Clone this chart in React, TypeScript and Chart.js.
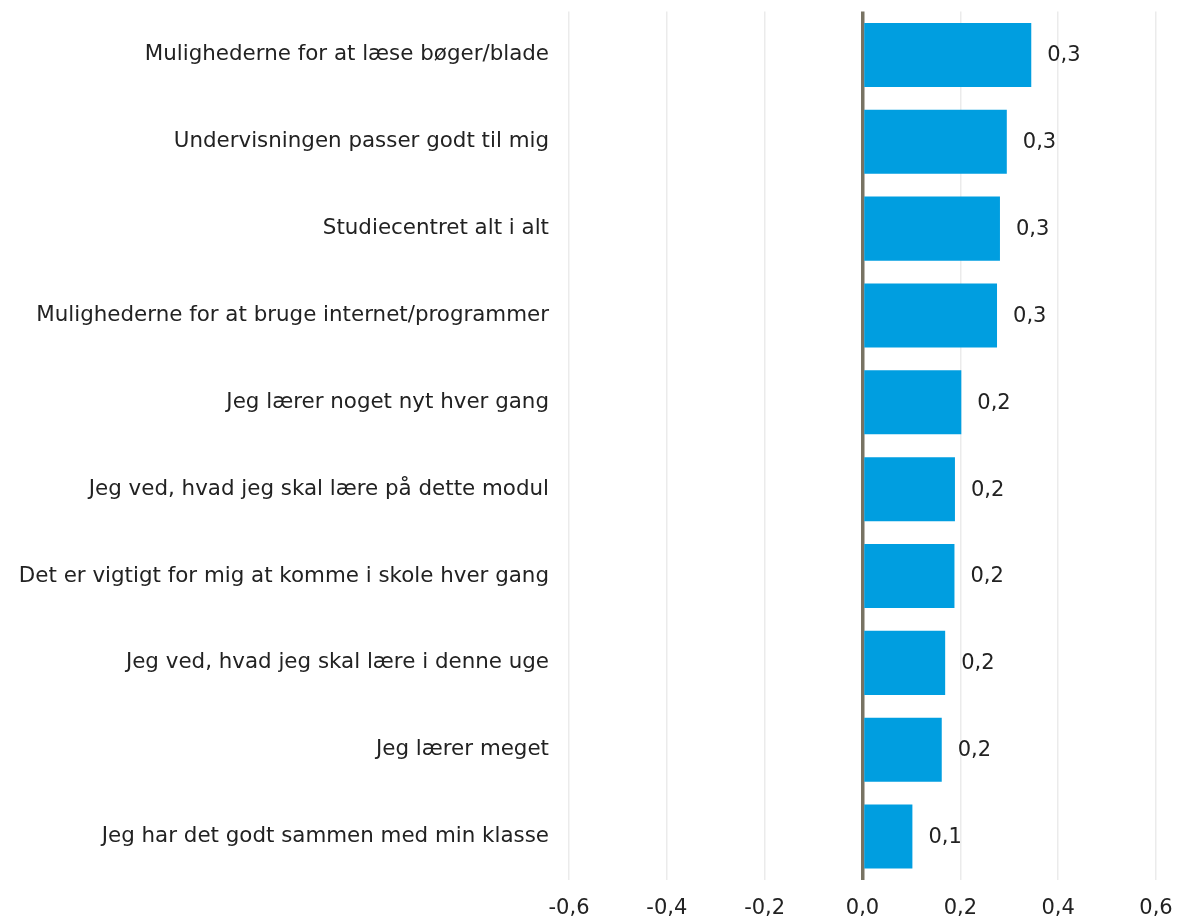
import React, { useEffect, useRef } from "react";
import { Chart, registerables } from "chart.js";

Chart.register(...registerables);

const categories: string[] = [
  "Mulighederne for at læse bøger/blade",
  "Undervisningen passer godt til mig",
  "Studiecentret alt i alt",
  "Mulighederne for at bruge internet/programmer",
  "Jeg lærer noget nyt hver gang",
  "Jeg ved, hvad jeg skal lære på dette modul",
  "Det er vigtigt for mig at komme i skole hver gang",
  "Jeg ved, hvad jeg skal lære i denne uge",
  "Jeg lærer meget",
  "Jeg har det godt sammen med min klasse",
];

const values: number[] = [0.345, 0.295, 0.281, 0.275, 0.202, 0.189, 0.188, 0.169, 0.162, 0.102];

const xMin = -0.6;
const xMax = 0.6;
const xStep = 0.2;

const FONT = "'DejaVu Sans', Verdana, sans-serif";

const fmt = (v: number): string => {
  if (Math.abs(v) < 1e-9) return "0,0";
  return v.toFixed(1).replace(".", ",");
};

const valueLabels = {
  id: "valueLabels",
  afterDatasetsDraw(chart: any) {
    const ctx = chart.ctx;
    const meta = chart.getDatasetMeta(0);
    ctx.save();
    ctx.font = `21px ${FONT}`;
    ctx.fillStyle = "#222222";
    ctx.textAlign = "left";
    ctx.textBaseline = "middle";
    meta.data.forEach((bar: any, i: number) => {
      const v = chart.data.datasets[0].data[i] as number;
      ctx.fillText(fmt(v), bar.x + 16, bar.y + 1);
    });
    ctx.restore();
  },
};

export default function App() {
  const ref = useRef<HTMLCanvasElement | null>(null);

  useEffect(() => {
    if (!ref.current) return;
    const chart = new Chart(ref.current, {
      type: "bar",
      data: {
        labels: categories,
        datasets: [
          {
            data: values,
            backgroundColor: "#009ee0",
            borderWidth: 0,
            barPercentage: 0.737,
            categoryPercentage: 1,
          },
        ],
      },
      options: {
        indexAxis: "y",
        animation: false,
        responsive: false,
        maintainAspectRatio: false,
        layout: { padding: { left: 0, right: 21, top: 11.5, bottom: 0 } },
        plugins: {
          legend: { display: false },
          tooltip: { enabled: false },
        },
        scales: {
          x: {
            min: xMin,
            max: xMax,
            border: { display: false },
            grid: {
              drawTicks: false,
              color: (c: any) =>
                c.tick && Math.abs(c.tick.value) < 1e-9 ? "#787363" : "#ebebeb",
              lineWidth: (c: any) =>
                c.tick && Math.abs(c.tick.value) < 1e-9 ? 3.5 : 1.5,
            },
            ticks: {
              stepSize: xStep,
              padding: 16,
              color: "#222222",
              font: { family: FONT, size: 21 },
              callback: (v: any) => fmt(Number(v)),
            },
            afterFit: (scale: any) => {
              scale.height = 40;
              scale.paddingLeft = 0;
              scale.paddingRight = 0;
            },
          },
          y: {
            border: { display: false },
            grid: { display: false, drawTicks: false },
            ticks: {
              padding: 20,
              color: "#222222",
              font: { family: FONT, size: 21.4 },
            },
            afterFit: (scale: any) => {
              scale.width = 569;
              scale.paddingTop = 0;
              scale.paddingBottom = 0;
            },
          },
        },
      },
      plugins: [valueLabels],
    });
    return () => chart.destroy();
  }, []);

  return (
    <div style={{ position: "fixed", left: 0, top: 0, width: 1177, height: 920, background: "#fff" }}>
      <canvas ref={ref} width={1177} height={920} style={{ display: "block" }} />
    </div>
  );
}
